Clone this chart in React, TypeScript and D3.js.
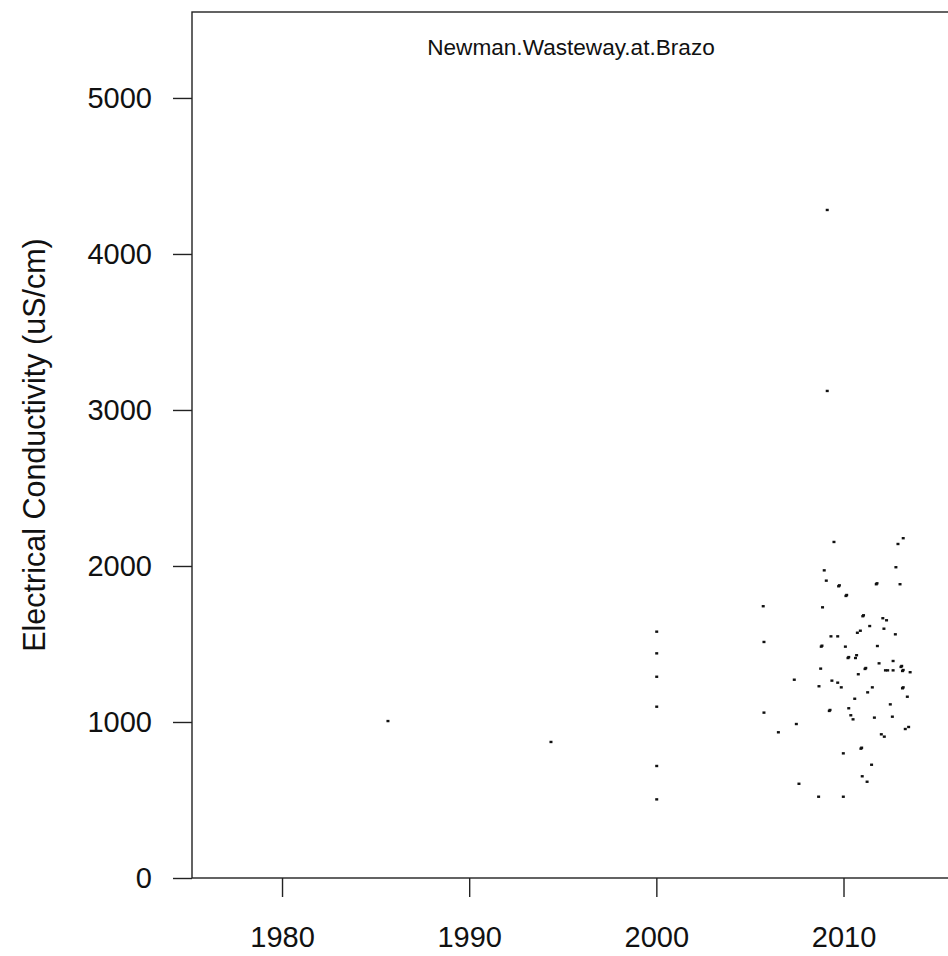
import React, { useEffect, useRef } from "react";
import * as d3 from "d3";

// Sampling dates (decimal years) and electrical conductivity readings (uS/cm)
const years: number[] = [
  1985.66, 1994.37,
  2000.02, 2000.02, 2000.02, 2000.02, 2000.02, 2000.02,
  2009.13, 2009.13,
  2009.49, 2013.19, 2012.91, 2008.97, 2012.80, 2009.08, 2009.74, 2009.78, 2011.75, 2011.79,
  2013.02, 2010.13, 2010.17, 2005.71, 2008.88, 2011.03, 2011.07, 2012.10, 2012.30, 2011.40,
  2012.16, 2010.74, 2010.90, 2012.77, 2009.33, 2009.69, 2005.75, 2008.81, 2008.85, 2010.10,
  2011.81, 2010.24, 2010.28, 2010.64, 2010.70, 2012.65, 2011.90, 2013.07, 2013.11, 2011.15,
  2011.19, 2008.78, 2012.24, 2012.36, 2012.65, 2013.15, 2013.19, 2013.56, 2010.79, 2007.37,
  2009.38, 2009.69, 2008.69, 2009.88, 2011.54, 2013.15, 2013.19, 2011.29, 2010.60, 2013.41,
  2012.50, 2010.28, 2009.24, 2009.28, 2005.75, 2010.39, 2010.51, 2011.65, 2012.61, 2007.48,
  2006.52, 2013.30, 2013.48, 2012.02, 2012.18, 2010.93, 2010.97, 2009.99, 2011.50, 2011.00,
  2011.26, 2007.62, 2008.67, 2009.99,
];

const conductivity: number[] = [
  1006, 872,
  1579, 1440, 1290, 1098, 718, 504,
  4282, 3122,
  2154, 2178, 2141, 1972, 1992, 1906, 1870, 1876, 1883, 1889,
  1883, 1808, 1814, 1742, 1735, 1678, 1684, 1665, 1652, 1615,
  1598, 1572, 1585, 1562, 1549, 1549, 1513, 1483, 1489, 1483,
  1487, 1410, 1416, 1410, 1428, 1391, 1376, 1353, 1359, 1340,
  1346, 1342, 1331, 1331, 1331, 1327, 1333, 1319, 1306, 1271,
  1265, 1252, 1229, 1222, 1222, 1216, 1222, 1190, 1149, 1162,
  1113, 1088, 1071, 1077, 1060, 1043, 1017, 1028, 1034, 987,
  934, 955, 968, 921, 906, 829, 835, 799, 726, 652,
  617, 604, 521, 521,
];

const yTicks: number[] = [0, 1000, 2000, 3000, 4000, 5000];
const xTicks: number[] = [1980, 1990, 2000, 2010];

const title = "Newman.Wasteway.at.Brazo";
const yLabel = "Electrical Conductivity (uS/cm)";

export default function App() {
  const ref = useRef<SVGSVGElement | null>(null);

  useEffect(() => {
    const W = 948;
    const H = 956;
    const left = 192;
    const right = 950;
    const top = 12;
    const bottom = 878;

    const x = d3.scaleLinear().domain([1975.19, 2015.69]).range([left, right]);
    const y = d3.scaleLinear().domain([0, 5551]).range([bottom, top]);

    const svg = d3.select(ref.current);
    svg.selectAll("*").remove();
    svg.attr("width", W).attr("height", H);

    svg.append("rect").attr("width", W).attr("height", H).attr("fill", "#fff");

    const font = "'Liberation Sans', Arial, sans-serif";

    // points
    const data = years.map((yr, i) => ({ yr, ec: conductivity[i] }));
    svg
      .append("g")
      .selectAll("rect")
      .data(data)
      .join("rect")
      .attr("x", (d) => x(d.yr) - 1.5)
      .attr("y", (d) => y(d.ec) - 1.2)
      .attr("width", 3)
      .attr("height", 2.4)
      .attr("fill", "#111");

    // box
    svg
      .append("rect")
      .attr("x", left)
      .attr("y", top)
      .attr("width", right - left)
      .attr("height", bottom - top)
      .attr("fill", "none")
      .attr("stroke", "#222")
      .attr("stroke-width", 1.4);

    // y axis
    const yAxis = d3
      .axisLeft(y)
      .tickValues(yTicks)
      .tickSize(19)
      .tickSizeOuter(0)
      .tickPadding(21)
      .tickFormat((d) => String(d));
    const gy = svg.append("g").attr("transform", `translate(${left},0)`).call(yAxis);
    gy.select(".domain").remove();
    gy.selectAll(".tick line").attr("stroke", "#222").attr("stroke-width", 1.4);
    gy.selectAll(".tick text")
      .attr("font-family", font)
      .attr("font-size", 29)
      .attr("fill", "#111");

    // x axis
    const xAxis = d3
      .axisBottom(x)
      .tickValues(xTicks)
      .tickSize(19)
      .tickSizeOuter(0)
      .tickPadding(29)
      .tickFormat((d) => String(d));
    const gx = svg.append("g").attr("transform", `translate(0,${bottom})`).call(xAxis);
    gx.select(".domain").remove();
    gx.selectAll(".tick line").attr("stroke", "#222").attr("stroke-width", 1.4);
    gx.selectAll(".tick text")
      .attr("font-family", font)
      .attr("font-size", 29)
      .attr("fill", "#111");

    // title
    svg
      .append("text")
      .attr("x", (left + right) / 2)
      .attr("y", 55)
      .attr("text-anchor", "middle")
      .attr("font-family", font)
      .attr("font-size", 22.6)
      .attr("fill", "#111")
      .text(title);

    // y label
    svg
      .append("text")
      .attr("transform", `translate(45,${(top + bottom) / 2}) rotate(-90)`)
      .attr("text-anchor", "middle")
      .attr("font-family", font)
      .attr("font-size", 30.5)
      .attr("fill", "#111")
      .text(yLabel);
  }, []);

  return (
    <svg
      ref={ref}
      style={{ position: "absolute", left: 0, top: 0, display: "block" }}
    />
  );
}
